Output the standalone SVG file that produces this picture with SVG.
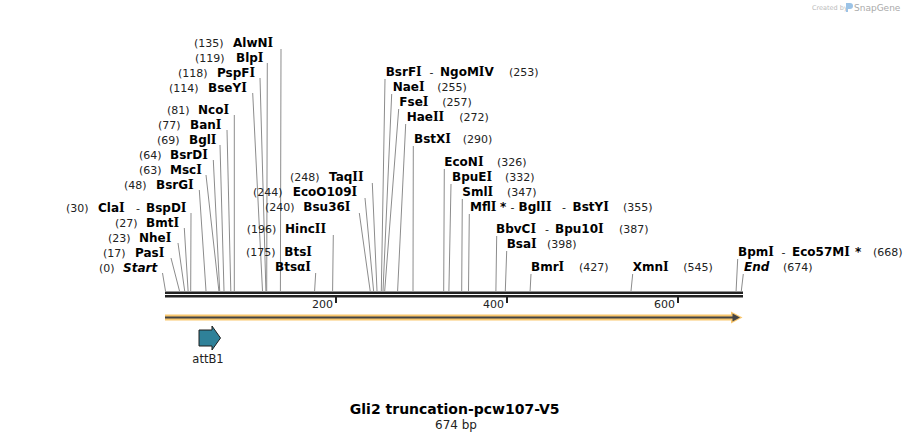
<svg xmlns="http://www.w3.org/2000/svg" width="909" height="441" viewBox="0 0 909 441">
<style>
text{font-family:"DejaVu Sans",Verdana,sans-serif;}
.n{font-size:11px;fill:#222;}
.b{font-size:12px;font-weight:bold;fill:#000;}
.bi{font-size:12px;font-weight:bold;font-style:italic;fill:#000;}
.i{font-family:"DejaVu Serif",serif;}
.ln{stroke:#8c8c8c;stroke-width:1;fill:none;}
.tk{font-size:11px;fill:#222;text-anchor:end;}
</style>
<rect width="909" height="441" fill="#fff"/>
<g id="logo">
<text x="812" y="10" style="font-size:6.5px;fill:#bbb;">Created by</text>
<path d="M846 3 h4 a3 3 0 0 1 0 6 h-2 v3 h-2 z" fill="#9cc3e6"/>
<text x="854" y="11" style="font-size:9px;fill:#aaa;">SnapGene</text>
</g>
<g id="connectors">
<line class="ln" x1="281" y1="49" x2="280.4" y2="291"/>
<line class="ln" x1="267.3" y1="63" x2="266.7" y2="291"/>
<line class="ln" x1="260" y1="78" x2="265.9" y2="291"/>
<line class="ln" x1="252.7" y1="93" x2="262.5" y2="291"/>
<line class="ln" x1="234.3" y1="115" x2="234.3" y2="291"/>
<line class="ln" x1="227" y1="130" x2="230.8" y2="291"/>
<line class="ln" x1="220" y1="145" x2="224" y2="291"/>
<line class="ln" x1="213.3" y1="160" x2="219.7" y2="291"/>
<line class="ln" x1="206" y1="175" x2="218.9" y2="291"/>
<line class="ln" x1="199.3" y1="190" x2="206" y2="291"/>
<line class="ln" x1="191" y1="213" x2="190.7" y2="291"/>
<line class="ln" x1="184.3" y1="228" x2="188.1" y2="291"/>
<line class="ln" x1="178" y1="243" x2="184.7" y2="291"/>
<line class="ln" x1="171" y1="258" x2="179.5" y2="291"/>
<line class="ln" x1="162.5" y1="273" x2="165.5" y2="291"/>
<line class="ln" x1="372.3" y1="183" x2="377" y2="291"/>
<line class="ln" x1="365" y1="198" x2="373.6" y2="291"/>
<line class="ln" x1="359.3" y1="213" x2="370.2" y2="291"/>
<line class="ln" x1="333.3" y1="235" x2="332.6" y2="291"/>
<line class="ln" x1="315.7" y1="273" x2="314.6" y2="291"/>
<line class="ln" x1="385" y1="79" x2="381.3" y2="291"/>
<line class="ln" x1="391.7" y1="94" x2="383" y2="291"/>
<line class="ln" x1="398.7" y1="109" x2="384.7" y2="291"/>
<line class="ln" x1="405.7" y1="124" x2="397.6" y2="291"/>
<line class="ln" x1="413.3" y1="146" x2="413" y2="291"/>
<line class="ln" x1="444.3" y1="169" x2="443.7" y2="291"/>
<line class="ln" x1="451" y1="184" x2="448.9" y2="291"/>
<line class="ln" x1="462.3" y1="199" x2="461.7" y2="291"/>
<line class="ln" x1="469.3" y1="214" x2="468.5" y2="291"/>
<line class="ln" x1="496.7" y1="236" x2="495.9" y2="291"/>
<line class="ln" x1="506.7" y1="251" x2="505.3" y2="291"/>
<line class="ln" x1="531" y1="274" x2="530.1" y2="291"/>
<line class="ln" x1="632.7" y1="274" x2="631" y2="291"/>
<line class="ln" x1="737.7" y1="259" x2="736.1" y2="291"/>
<line class="ln" x1="743.3" y1="274" x2="741.3" y2="291"/>
</g>
<g id="sequence">
<rect x="165" y="291.5" width="578" height="2.5" fill="#222"/>
<rect x="165" y="295" width="578" height="2.5" fill="#222"/>
<rect x="335" y="297" width="2" height="6" fill="#222"/>
<rect x="506" y="297" width="2" height="6" fill="#222"/>
<rect x="677" y="297" width="2" height="6" fill="#222"/>
<text class="tk" x="333" y="308">200</text>
<text class="tk" x="504" y="308">400</text>
<text class="tk" x="675" y="308">600</text>
</g>
<g id="orf">
<rect x="165" y="314.5" width="570" height="6" fill="#f9c76e"/>
<polygon points="731,311.5 742.5,317.5 731,323.5" fill="#f9c76e"/>
<rect x="165" y="316.5" width="568" height="2" fill="#444"/>
<polygon points="732.5,313.5 740,317.5 732.5,321.5" fill="#444"/>
</g>
<g id="attB1">
<polygon points="199,330 212,330 212,326 220.5,338 212,350 212,346 199,346" fill="#2f8199" stroke="#1e1e1e" stroke-width="1"/>
<text class="n" x="208" y="363" text-anchor="middle" style="font-size:11.5px;">attB1</text>
</g>
<g id="AlwNI"><text class="n" x="194" y="47">(135)</text><text class="b" x="233" y="47">AlwN<tspan class="i">I</tspan></text></g>
<g id="BlpI"><text class="n" x="195" y="62">(119)</text><text class="b" x="236" y="62">Blp<tspan class="i">I</tspan></text></g>
<g id="PspFI"><text class="n" x="178" y="77">(118)</text><text class="b" x="217" y="77">PspF<tspan class="i">I</tspan></text></g>
<g id="BseYI"><text class="n" x="169" y="92">(114)</text><text class="b" x="208" y="92">BseY<tspan class="i">I</tspan></text></g>
<g id="NcoI"><text class="n" x="167" y="114">(81)</text><text class="b" x="198" y="114">Nco<tspan class="i">I</tspan></text></g>
<g id="BanI"><text class="n" x="158" y="129">(77)</text><text class="b" x="190" y="129">Ban<tspan class="i">I</tspan></text></g>
<g id="BglI"><text class="n" x="157" y="144">(69)</text><text class="b" x="189" y="144">Bgl<tspan class="i">I</tspan></text></g>
<g id="BsrDI"><text class="n" x="139" y="159">(64)</text><text class="b" x="170" y="159">BsrD<tspan class="i">I</tspan></text></g>
<g id="MscI"><text class="n" x="139" y="174">(63)</text><text class="b" x="170" y="174">Msc<tspan class="i">I</tspan></text></g>
<g id="BsrGI"><text class="n" x="124" y="189">(48)</text><text class="b" x="156" y="189">BsrG<tspan class="i">I</tspan></text></g>
<g id="ClaI"><text class="n" x="66" y="212">(30)</text><text class="b" x="98" y="212">Cla<tspan class="i">I</tspan></text><text class="n" x="136" y="212">-</text><text class="b" x="146" y="212">BspD<tspan class="i">I</tspan></text></g>
<g id="BmtI"><text class="n" x="115" y="227">(27)</text><text class="b" x="146" y="227">Bmt<tspan class="i">I</tspan></text></g>
<g id="NheI"><text class="n" x="108" y="242">(23)</text><text class="b" x="139" y="242">Nhe<tspan class="i">I</tspan></text></g>
<g id="PasI"><text class="n" x="103" y="257">(17)</text><text class="b" x="135" y="257">Pas<tspan class="i">I</tspan></text></g>
<g id="Start"><text class="n" x="99" y="272">(0)</text><text class="bi" x="123" y="272">Start</text></g>
<g id="TaqII"><text class="n" x="290" y="181">(248)</text><text class="b" x="329" y="181">Taq<tspan class="i">II</tspan></text></g>
<g id="EcoO109I"><text class="n" x="253" y="196">(244)</text><text class="b" x="292.7" y="196">EcoO109<tspan class="i">I</tspan></text></g>
<g id="Bsu36I"><text class="n" x="265" y="211">(240)</text><text class="b" x="303.3" y="211">Bsu36<tspan class="i">I</tspan></text></g>
<g id="HincII"><text class="n" x="246.7" y="233">(196)</text><text class="b" x="285" y="233">Hinc<tspan class="i">II</tspan></text></g>
<g id="BtsI"><text class="n" x="246" y="256">(175)</text><text class="b" x="284.3" y="256">Bts<tspan class="i">I</tspan></text></g>
<g id="BtsaI"><text class="b" x="275" y="271">Btsα<tspan class="i">I</tspan></text></g>
<g id="BsrFI"><text class="b" x="385.7" y="76">BsrF<tspan class="i">I</tspan></text><text class="n" x="429.5" y="76">-</text><text class="b" x="440" y="76">NgoM<tspan class="i">I</tspan>V</text><text class="n" x="509" y="76">(253)</text></g>
<g id="NaeI"><text class="b" x="392.7" y="91">Nae<tspan class="i">I</tspan></text><text class="n" x="437.3" y="91">(255)</text></g>
<g id="FseI"><text class="b" x="399.3" y="106">Fse<tspan class="i">I</tspan></text><text class="n" x="442.3" y="106">(257)</text></g>
<g id="HaeII"><text class="b" x="406.7" y="121">Hae<tspan class="i">II</tspan></text><text class="n" x="459.3" y="121">(272)</text></g>
<g id="BstXI"><text class="b" x="414" y="143">BstX<tspan class="i">I</tspan></text><text class="n" x="462.7" y="143">(290)</text></g>
<g id="EcoNI"><text class="b" x="444.3" y="166">EcoN<tspan class="i">I</tspan></text><text class="n" x="497" y="166">(326)</text></g>
<g id="BpuEI"><text class="b" x="452" y="181">BpuE<tspan class="i">I</tspan></text><text class="n" x="505" y="181">(332)</text></g>
<g id="SmlI"><text class="b" x="462.3" y="196">Sml<tspan class="i">I</tspan></text><text class="n" x="507" y="196">(347)</text></g>
<g id="MflI"><text class="b" x="470" y="211">Mfl<tspan class="i">I</tspan></text><text class="b" x="500" y="211">*</text><text class="n" x="510.5" y="211">-</text><text class="b" x="518.5" y="211">Bgl<tspan class="i">II</tspan></text><text class="n" x="562" y="211">-</text><text class="b" x="572.5" y="211">BstY<tspan class="i">I</tspan></text><text class="n" x="623" y="211">(355)</text></g>
<g id="BbvCI"><text class="b" x="496" y="233">BbvC<tspan class="i">I</tspan></text><text class="n" x="545" y="233">-</text><text class="b" x="555" y="233">Bpu10<tspan class="i">I</tspan></text><text class="n" x="619" y="233">(387)</text></g>
<g id="BsaI"><text class="b" x="506.7" y="248">Bsa<tspan class="i">I</tspan></text><text class="n" x="547" y="248">(398)</text></g>
<g id="BmrI"><text class="b" x="531" y="271">Bmr<tspan class="i">I</tspan></text><text class="n" x="579" y="271">(427)</text></g>
<g id="XmnI"><text class="b" x="632.7" y="271">Xmn<tspan class="i">I</tspan></text><text class="n" x="683.3" y="271">(545)</text></g>
<g id="BpmI"><text class="b" x="738" y="256">Bpm<tspan class="i">I</tspan></text><text class="n" x="781.5" y="256">-</text><text class="b" x="792" y="256">Eco57M<tspan class="i">I</tspan></text><text class="b" x="855" y="256">*</text><text class="n" x="873" y="256">(668)</text></g>
<g id="End"><text class="bi" x="744" y="271">End</text><text class="n" x="783" y="271">(674)</text></g>
<g id="title">
<text x="454.7" y="414" text-anchor="middle" style="font-size:14px;font-weight:bold;fill:#000;">Gli2 truncation-pcw107-V5</text>
<text x="456" y="429" text-anchor="middle" style="font-size:12px;fill:#222;">674 bp</text>
</g>
</svg>
